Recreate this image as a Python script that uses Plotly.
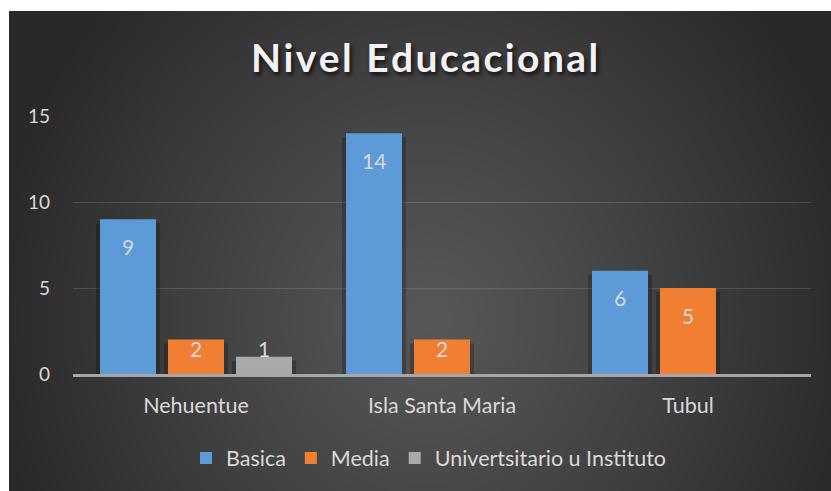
import base64, struct, zlib
import numpy as np
import plotly.graph_objects as go

# ---------------- data ----------------
categories = ["Nehuentue", "Isla Santa Maria", "Tubul"]
basica = [9, 14, 6]
media = [2, 2, 5]
universitario = [1, None, None]
series_names = ["Basica", "Media", "Univertsitario u Instituto"]
y_ticks = [0, 5, 10, 15]
title_text = "Nivel Educacional"

# ---------------- style constants ----------------
W, H = 831, 491
ML, MR, MT, MB = 73, 20, 116, 117
PW, PH = W - ML - MR, H - MT - MB
CAT_PX = PW / len(categories)
SLOT_PX, BAR_PX = 68, 56
colors = ["#5C9BD8", "#F07F34", "#A9A9A9"]
label_color = "#D9D9D9"
FONT = "Lato"

# background radial gradient image
def gradient_png(w, h):
    yy, xx = np.mgrid[0:h, 0:w].astype(float)
    cx, cy = 0.51 * w, 0.64 * h
    r = np.sqrt(((xx - cx) / (0.54 * w)) ** 2 + ((yy - cy) / (0.98 * h)) ** 2)
    r = np.clip(r, 0, 1)
    v = (0x58 - (0x58 - 0x29) * r ** 1.1).astype(np.uint8)
    raw = b"".join(b"\x00" + bytes(np.repeat(row, 3)) for row in v)
    def chunk(t, d):
        c = struct.pack(">I", len(d)) + t + d
        return c + struct.pack(">I", zlib.crc32(t + d) & 0xFFFFFFFF)
    png = b"\x89PNG\r\n\x1a\n" + chunk(b"IHDR", struct.pack(">IIBBBBB", w, h, 8, 2, 0, 0, 0))
    png += chunk(b"IDAT", zlib.compress(raw, 9)) + chunk(b"IEND", b"")
    return "data:image/png;base64," + base64.b64encode(png).decode()

bg_x0, bg_x1, bg_y0, bg_y1 = 9, 831, 11, 491
img = gradient_png(411, 240)

fig = go.Figure()
all_series = [basica, media, universitario]
px_per_unit = PH / 15
for i, (name, vals, col) in enumerate(zip(series_names, all_series, colors)):
    center_off = (i - 1) * SLOT_PX
    # soft shadow
    fig.add_trace(go.Bar(
        x=categories, y=[None if v is None else v - 4 / px_per_unit for v in vals],
        width=(BAR_PX + 8) / CAT_PX, offset=(center_off - BAR_PX / 2 - 4) / CAT_PX,
        marker=dict(color="rgba(0,0,0,0.22)", line=dict(width=0)),
        showlegend=False, hoverinfo="skip"))
    fig.add_trace(go.Bar(
        x=categories, y=vals, name=name,
        width=BAR_PX / CAT_PX, offset=(center_off - BAR_PX / 2) / CAT_PX,
        marker=dict(color=col, line=dict(width=0))))

annotations = []
for i, vals in enumerate(all_series):
    for c, v in zip(categories, vals):
        if v is None:
            continue
        ylab = max(v - 27 / px_per_unit, 26 / px_per_unit)
        annotations.append(dict(
            x=c, y=ylab, xref="x", yref="y", xshift=(i - 1) * SLOT_PX,
            text=str(v), showarrow=False, yanchor="middle",
            font=dict(family=FONT, size=21, color=label_color)))

spaced_title = "\u200a".join(title_text)
annotations.append(dict(
    x=(424 - ML) / PW, y=(H - MB - 57) / PH,
    xref="paper", yref="paper", text="<b>" + spaced_title + "</b>", showarrow=False,
    xanchor="center", yanchor="middle",
    font=dict(family=FONT, size=39, color="#F2F2F2",
              shadow="2px 3px 4px rgba(0,0,0,0.75)")))

fig.update_layout(
    width=W, height=H,
    margin=dict(l=ML, r=MR, t=MT, b=MB, pad=0),
    paper_bgcolor="white", plot_bgcolor="rgba(0,0,0,0)",
    barmode="overlay",
    font=dict(family=FONT, size=19, color=label_color),
    showlegend=True,
    legend=dict(orientation="h", x=(429 - ML) / PW, xanchor="center",
                y=(H - MB - 458) / PH, yanchor="middle",
                font=dict(family=FONT, size=21.5, color=label_color),
                bgcolor="rgba(0,0,0,0)", itemwidth=30, traceorder="normal"),
    annotations=annotations,
    images=[dict(source=img, xref="paper", yref="paper",
                 x=(bg_x0 - ML) / PW, y=(H - MB - bg_y0) / PH,
                 sizex=(bg_x1 - bg_x0) / PW, sizey=(bg_y1 - bg_y0) / PH,
                 xanchor="left", yanchor="top", sizing="stretch", layer="below")],
    xaxis=dict(type="category", showgrid=False, showline=True, linecolor="#A6A6A6",
               linewidth=2.5, ticks="", ticklabelstandoff=10, zeroline=False,
               tickfont=dict(family=FONT, size=21.5, color=label_color)),
    yaxis=dict(range=[0, 15], tickvals=y_ticks, showgrid=True,
               gridcolor="rgba(255,255,255,0.13)", gridwidth=1.3, zeroline=False,
               showline=False, ticks="", ticklabelstandoff=22,
               tickfont=dict(family=FONT, size=19, color=label_color)),
)

fig.write_html("out.html", config={"displayModeBar": False},
               post_script="document.body.style.margin='0px';")
